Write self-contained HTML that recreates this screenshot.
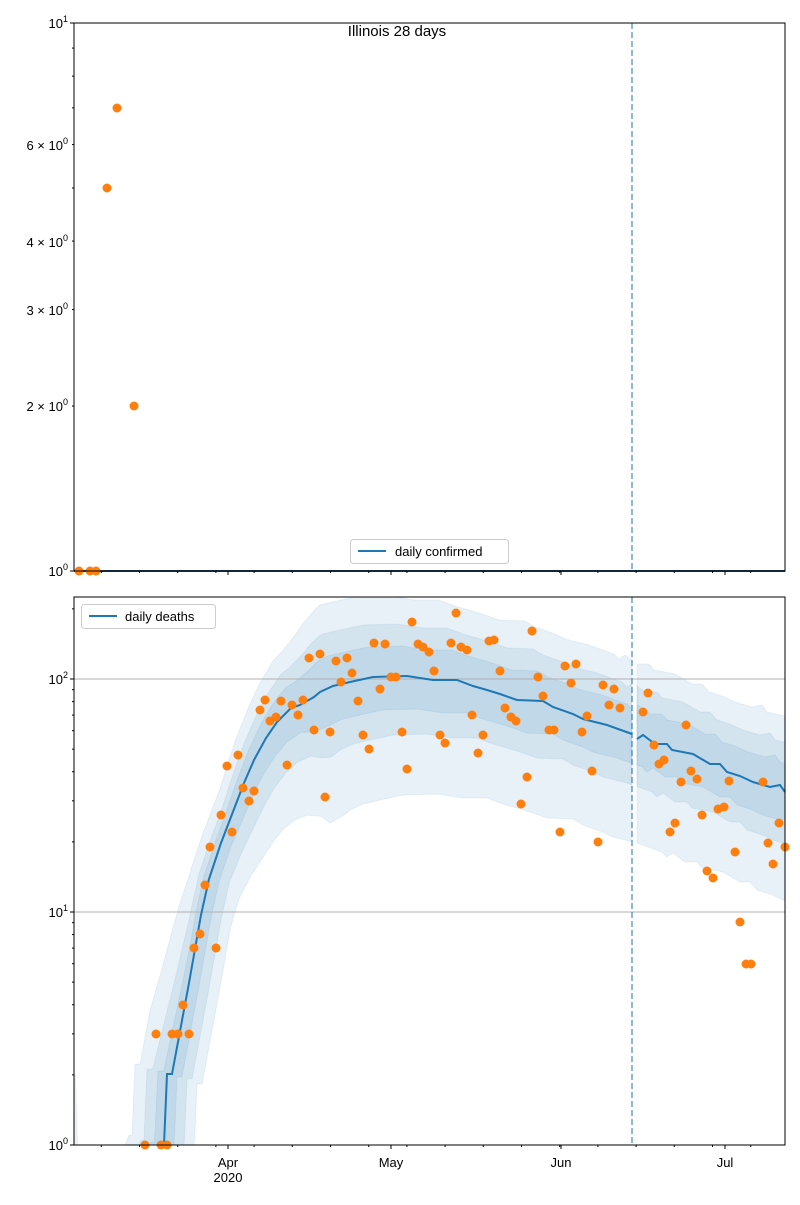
<!DOCTYPE html>
<html><head><meta charset="utf-8"><style>
body{margin:0;background:#fff}
svg text{font-family:"Liberation Sans","DejaVu Sans",sans-serif;font-size:13px;fill:#000}
</style></head><body>
<svg id="s" width="800" height="1200" xmlns="http://www.w3.org/2000/svg">
<rect width="800" height="1200" fill="#fff"/>
<g id="bands"></g>
<g id="grid"></g>
<g id="lines"></g>
<g id="dots"></g>
<g id="axes"></g>
<text x="397" y="36" text-anchor="middle" style="font-size:15px">Illinois 28 days</text>
<text x="68" y="28" text-anchor="end">10<tspan dy="-6" style="font-size:9px">1</tspan></text>
<text x="68" y="150" text-anchor="end">6 × 10<tspan dy="-6" style="font-size:9px">0</tspan></text>
<text x="68" y="247" text-anchor="end">4 × 10<tspan dy="-6" style="font-size:9px">0</tspan></text>
<text x="68" y="315" text-anchor="end">3 × 10<tspan dy="-6" style="font-size:9px">0</tspan></text>
<text x="68" y="411" text-anchor="end">2 × 10<tspan dy="-6" style="font-size:9px">0</tspan></text>
<text x="68" y="576" text-anchor="end">10<tspan dy="-6" style="font-size:9px">0</tspan></text>
<text x="68" y="684" text-anchor="end">10<tspan dy="-6" style="font-size:9px">2</tspan></text>
<text x="68" y="917" text-anchor="end">10<tspan dy="-6" style="font-size:9px">1</tspan></text>
<text x="68" y="1150" text-anchor="end">10<tspan dy="-6" style="font-size:9px">0</tspan></text>
<text x="228" y="1167" text-anchor="middle">Apr</text>
<text x="228" y="1182" text-anchor="middle">2020</text>
<text x="391" y="1167" text-anchor="middle">May</text>
<text x="561" y="1167" text-anchor="middle">Jun</text>
<text x="725" y="1167" text-anchor="middle">Jul</text>
<rect x="350.5" y="539.5" width="158" height="24" rx="3" fill="#fff" fill-opacity="0.8" stroke="#ccc"/>
<line x1="358" y1="551" x2="386" y2="551" stroke="#1f77b4" stroke-width="2"/>
<text x="395" y="556">daily confirmed</text>
<rect x="81.5" y="604.5" width="134" height="24" rx="3" fill="#fff" fill-opacity="0.8" stroke="#ccc"/>
<line x1="89" y1="616" x2="117" y2="616" stroke="#1f77b4" stroke-width="2"/>
<text x="125" y="621">daily deaths</text>
</svg>
<script>
const NS="http://www.w3.org/2000/svg";
function el(p,t,a){const e=document.createElementNS(NS,t);for(const k in a)e.setAttribute(k,a[k]);document.getElementById(p).appendChild(e);return e;}
const M=[[140,1200],[161,1145],[164,1145],[167,1074],[172,1074],[189,983],[201,915],[209,879],[221,843],[244,783],[254,760],[266,738],[277,722],[291,708],[300,705],[314,697],[320,692],[333,686],[350,682],[373,677],[407,676],[433,680],[457,680],[473,686],[487,690],[500,694],[517,700],[543,701],[553,707],[573,714],[583,719],[607,725],[632,734],[637,739],[643,735],[655,744],[667,744],[672,750],[693,754],[710,764],[720,764],[727,772],[740,776],[753,782],[770,787],[780,785],[785,792],[820,800]];
function m(x){for(let i=0;i<M.length-1;i++){if(x<=M[i+1][0]){const t=(x-M[i][0])/(M[i+1][0]-M[i][0]);return M[i][1]+t*(M[i+1][1]-M[i][1]);}}return M[M.length-1][1];}
function ramp(x,x0,x1){return Math.max(0,Math.min(1,(x-x0)/(x1-x0)));}
const B=[{su0:32,su1:18,sl:30,a0:10,a1:80,b0:10,b1:118},{su0:20,su1:10,sl:20,a0:5,a1:52,b0:5,b1:58},{su0:10,su1:5,sl:10,a0:3,a1:30,b0:3,b1:33}];
function band(b,xa,xb){let up=[],lo=[];for(let x=xa;x<=xb;x+=1){const t=ramp(x,220,320),t2=ramp(x,230,330);const su=b.su0+(b.su1-b.su0)*ramp(x,150,190);let u=m(x+su)-(b.a0+(b.a1-b.a0)*t);let l=m(x-b.sl)+(b.b0+(b.b1-b.b0)*t2);u=Math.max(597,Math.min(1145,u));l=Math.max(597,Math.min(1145,l));up.push([x,u]);lo.push([x,l]);}
const pts=up.concat(lo.reverse()).map(p=>p[0].toFixed(1)+","+p[1].toFixed(1)).join(" ");el("bands","polygon",{points:pts,fill:"#1f77b4","fill-opacity":0.1,stroke:"#1f77b4","stroke-opacity":0.08});}
B.forEach(b=>{band(b,100,632);band(b,637,785);});
el("bands","polygon",{points:"74,1075 76,1075 78,1145 74,1145",fill:"#1f77b4","fill-opacity":0.1});
[679,912].forEach(y=>el("grid","line",{x1:74,x2:785,y1:y,y2:y,stroke:"#b0b0b0","stroke-width":1}));
let mp=[];for(const p of M){if(p[0]>=161&&p[0]<=632)mp.push(p.join(","));}
el("lines","polyline",{points:mp.join(" "),fill:"none",stroke:"#1f77b4","stroke-width":2});
mp=[];for(const p of M){if(p[0]>=637&&p[0]<=785)mp.push(p.join(","));}
el("lines","polyline",{points:mp.join(" "),fill:"none",stroke:"#1f77b4","stroke-width":2});
el("lines","line",{x1:74,x2:785,y1:571,y2:571,stroke:"#1f4e79","stroke-width":2});
[[23,571],[597,1145]].forEach(r=>el("lines","line",{x1:632,x2:632,y1:r[0],y2:r[1],stroke:"#1f77b4","stroke-opacity":0.6,"stroke-width":1.7,"stroke-dasharray":"6,3"}));
const D=[[79,571],[90,571],[96,571],[107,188],[117,108],[134,406],
[145,1145],[156,1034],[161,1145],[167,1145],[172,1034],[178,1034],[183,1005],[189,1034],[194,948],[200,934],[205,885],[210,847],[216,948],[221,815],[227,766],[232,832],[238,755],[243,788],[249,801],[254,791],[260,710],[265,700],[270,721],[276,717],[281,701],[287,765],[292,705],[298,715],[303,700],[309,658],[314,730],[320,654],[325,797],[330,732],[336,661],[341,682],[347,658],[352,673],[358,701],[363,735],[369,749],[374,643],[380,689],[385,644],[391,677],[396,677],[402,732],[407,769],[412,622],[418,644],[423,647],[429,652],[434,671],[440,735],[445,743],[451,643],[456,613],[461,647],[467,650],[472,715],[478,753],[483,735],[489,641],[494,640],[500,671],[505,708],[511,717],[516,721],[521,804],[527,777],[532,631],[538,677],[543,696],[549,730],[554,730],[560,832],[565,666],[571,683],[576,664],[582,732],[587,716],[592,771],[598,842],[603,685],[609,705],[614,689],[620,708],[643,712],[648,693],[654,745],[659,764],[664,760],[670,832],[675,823],[681,782],[686,725],[691,771],[697,779],[702,815],[707,871],[713,878],[718,809],[724,807],[729,781],[735,852],[740,922],[746,964],[751,964],[763,782],[768,843],[773,864],[779,823],[785,847]];
D.forEach(p=>el("dots","circle",{cx:p[0],cy:p[1],r:4.5,fill:"#ff7f0e"}));
[[23,571],[597,1145]].forEach(r=>el("axes","rect",{x:74,y:r[0],width:711,height:r[1]-r[0],fill:"none",stroke:"#000","stroke-width":1}));
[[571],[1145]].forEach(r=>{const y=r[0];
 for(let x=101.3;x<786;x+=38.2)el("axes","line",{x1:x,x2:x,y1:y,y2:y+2,stroke:"#000"});
 [228,391,561,725].forEach(x=>el("axes","line",{x1:x,x2:x,y1:y,y2:y+4,stroke:"#000"}));});
function yt(y,len){el("axes","line",{x1:74-len,x2:74,y1:y,y2:y,stroke:"#000"});}
yt(23,4);yt(571,4);for(let k=2;k<=9;k++)yt(571-548*Math.log10(k),2);
[679,912,1145].forEach(y=>yt(y,4));
for(const base of [1145,912,679])for(let k=2;k<=9;k++){const y=base-233*Math.log10(k);if(y>=597)yt(y,2);}
</script>
</body></html>
